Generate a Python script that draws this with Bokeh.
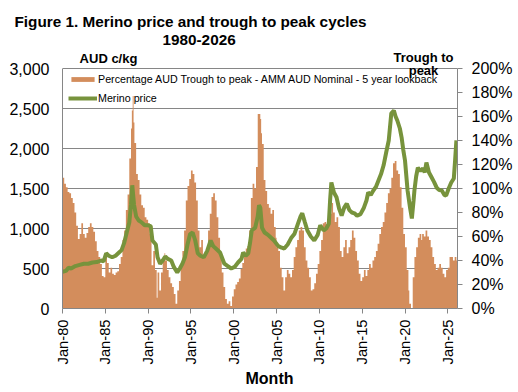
import math
from bokeh.plotting import figure
from bokeh.models import (Range1d, LinearAxis, FixedTicker, NumeralTickFormatter,
                          PrintfTickFormatter, Label, Title)
from bokeh.embed import file_html
from bokeh.resources import INLINE

# ---- data (year as decimal) ----
bar_year = [
    1980.0, 1980.2, 1980.4, 1980.6, 1980.8, 1981.0, 1981.2, 1981.4, 1981.6, 1981.8,
    1982.0, 1982.2, 1982.4, 1982.6, 1982.8, 1983.0, 1983.2, 1983.4, 1983.6, 1983.8,
    1984.0, 1984.2, 1984.4, 1984.6, 1984.8, 1985.0, 1985.2, 1985.4, 1985.6, 1985.8,
    1986.0, 1986.2, 1986.4, 1986.6, 1986.8, 1987.0, 1987.2, 1987.4, 1987.6, 1987.8,
    1988.0, 1988.1, 1988.2, 1988.3, 1988.4, 1988.6, 1988.8, 1989.0, 1989.2, 1989.4,
    1989.6, 1989.8, 1990.0, 1990.2, 1990.4, 1990.6, 1990.8, 1991.0, 1991.1, 1991.3,
    1991.5, 1991.7, 1991.9, 1992.0, 1992.2, 1992.4, 1992.6, 1992.8, 1993.0, 1993.2,
    1993.4, 1993.6, 1993.8, 1994.0, 1994.2, 1994.4, 1994.6, 1994.8, 1995.0, 1995.2,
    1995.4, 1995.6, 1995.8, 1996.0, 1996.2, 1996.4, 1996.6, 1996.8, 1997.0, 1997.2,
    1997.4, 1997.6, 1997.8, 1998.0, 1998.2, 1998.4, 1998.6, 1998.8, 1999.0, 1999.2,
    1999.4, 1999.6, 1999.8, 2000.0, 2000.2, 2000.4, 2000.6, 2000.8, 2001.0, 2001.2,
    2001.4, 2001.6, 2001.8, 2002.0, 2002.2, 2002.4, 2002.6, 2002.8, 2003.0, 2003.1,
    2003.2, 2003.3, 2003.5, 2003.7, 2003.9, 2004.1, 2004.3, 2004.5, 2004.7, 2004.9,
    2005.0, 2005.2, 2005.4, 2005.6, 2005.8, 2006.0, 2006.2, 2006.4, 2006.6, 2006.8,
    2007.0, 2007.2, 2007.4, 2007.6, 2007.8, 2008.0, 2008.2, 2008.4, 2008.6, 2008.8,
    2009.0, 2009.2, 2009.4, 2009.6, 2009.8, 2010.0, 2010.2, 2010.4, 2010.6, 2010.8,
    2011.0, 2011.2, 2011.4, 2011.6, 2011.8, 2012.0, 2012.2, 2012.4, 2012.6, 2012.8,
    2013.0, 2013.2, 2013.4, 2013.6, 2013.8, 2014.0, 2014.2, 2014.4, 2014.6, 2014.8,
    2015.0, 2015.2, 2015.4, 2015.6, 2015.8, 2016.0, 2016.2, 2016.4, 2016.6, 2016.8,
    2017.0, 2017.2, 2017.4, 2017.6, 2017.8, 2018.0, 2018.2, 2018.4, 2018.6, 2018.8,
    2019.0, 2019.2, 2019.4, 2019.6, 2019.8, 2020.0, 2020.2, 2020.4, 2020.5, 2020.7,
    2020.9, 2021.1, 2021.3, 2021.5, 2021.7, 2021.9, 2022.0, 2022.2, 2022.4, 2022.6,
    2022.8, 2023.0, 2023.2, 2023.4, 2023.6, 2023.8, 2024.0, 2024.2, 2024.4, 2024.6,
    2024.8, 2025.0, 2025.2, 2025.4, 2025.6, 2025.8, 2026.0, 2026.13,
]
bar_pct = [
    109, 104, 101, 97, 96, 92, 88, 80, 69, 58,
    62, 71, 62, 59, 63, 68, 71, 68, 64, 56,
    48, 43, 37, 27, 26, 45, 38, 30, 34, 29,
    28, 30, 31, 37, 43, 57, 65, 82, 95, 125,
    150, 165, 177, 155, 138, 112, 107, 95, 86, 84,
    76, 74, 71, 62, 36, 48, 32, 9, 30, 15,
    30, 42, 46, 40, 32, 26, 21, 18, 12, 4,
    15, 23, 36, 48, 65, 90, 102, 108, 115, 112,
    105, 90, 65, 51, 57, 43, 45, 48, 65, 79,
    93, 96, 90, 76, 59, 46, 30, 18, 8, 4,
    6, 2, 10, 16, 20, 22, 25, 33, 38, 44,
    50, 52, 65, 92, 104, 100, 118, 162, 162, 158,
    146, 137, 107, 98, 87, 84, 79, 82, 68, 59,
    51, 48, 34, 26, 15, 26, 32, 29, 26, 32,
    43, 51, 57, 65, 68, 65, 51, 40, 34, 26,
    15, 16, 21, 29, 37, 48, 57, 71, 72, 70,
    74, 79, 88, 80, 72, 76, 68, 48, 43, 51,
    57, 46, 51, 57, 65, 59, 48, 40, 29, 23,
    26, 32, 27, 32, 37, 34, 40, 43, 48, 54,
    62, 68, 72, 80, 88, 96, 100, 109, 121, 123,
    115, 112, 101, 84, 62, 51, 32, 15, 4, 0,
    26, 43, 51, 59, 62, 57, 62, 60, 65, 60,
    57, 51, 43, 37, 32, 34, 37, 34, 29, 26,
    32, 34, 43, 43, 40, 43, 40, 40,
]

price_year = [
    1980.0, 1980.4, 1980.7, 1981.0, 1981.5, 1982.0, 1982.5, 1983.0, 1983.5, 1984.0,
    1984.5, 1984.8, 1985.1, 1985.4, 1985.8, 1986.2, 1986.6, 1986.9, 1987.2, 1987.5,
    1987.8, 1988.0, 1988.15, 1988.35, 1988.6, 1988.9, 1989.2, 1989.6, 1990.0, 1990.3,
    1990.5, 1990.9, 1991.1, 1991.4, 1991.7, 1992.0, 1992.3, 1992.7, 1993.0, 1993.4,
    1993.7, 1994.0, 1994.3, 1994.6, 1994.9, 1995.2, 1995.5, 1995.8, 1996.1, 1996.5,
    1996.9, 1997.3, 1997.6, 1998.0, 1998.4, 1998.9, 1999.3, 1999.7, 2000.1, 2000.5,
    2000.9, 2001.1, 2001.4, 2001.7, 2001.9, 2002.1, 2002.5, 2002.8, 2002.95, 2003.1,
    2003.3, 2003.6, 2004.0, 2004.3, 2004.7, 2005.2, 2005.6, 2005.9, 2006.3, 2006.7,
    2007.1, 2007.5, 2007.8, 2008.0, 2008.3, 2008.6, 2009.0, 2009.4, 2009.8, 2010.1,
    2010.5, 2010.8, 2011.1, 2011.25, 2011.4, 2011.7, 2012.0, 2012.3, 2012.6, 2012.9,
    2013.2, 2013.5, 2013.8, 2014.1, 2014.4, 2014.8, 2015.2, 2015.5, 2015.7, 2016.0,
    2016.3, 2016.6, 2016.9, 2017.2, 2017.5, 2017.8, 2018.1, 2018.4, 2018.7, 2018.9,
    2019.1, 2019.4, 2019.6, 2019.8, 2020.0, 2020.3, 2020.6, 2020.8, 2021.0, 2021.1,
    2021.3, 2021.5, 2021.8, 2022.1, 2022.3, 2022.5, 2022.8, 2023.1, 2023.4, 2023.7,
    2024.0, 2024.3, 2024.6, 2024.8, 2025.1, 2025.4, 2025.7, 2025.85, 2026.0,
]
price_ckg = [
    460, 470, 510, 500, 530, 545, 560, 560, 575, 580,
    600, 590, 690, 660, 640, 660, 700, 730, 820, 950,
    1075, 1300, 1540, 1300, 1150, 1100, 1080, 1040, 1040, 1030,
    850, 800, 640, 560, 600, 650, 620, 600, 520, 450,
    500, 560, 640, 800, 930, 950, 850, 690, 660, 640,
    720, 850, 780, 740, 700, 560, 530, 500, 520, 575,
    620, 700, 660, 690, 820, 975, 1010, 1150, 1290, 1260,
    1010, 950, 920, 890, 850, 780, 760, 750, 800, 880,
    935, 1060, 1150, 1190, 1080, 975, 900, 850, 920, 1040,
    975, 1000, 1060, 1350, 1575, 1450, 1390, 1250, 1160, 1260,
    1310, 1230, 1200, 1190, 1160, 1180, 1260, 1350, 1450, 1420,
    1475, 1520, 1600, 1680, 1790, 1950, 2100, 2440, 2475, 2400,
    2350, 2250, 2140, 1980, 1850, 1475, 1250, 1125, 1350, 1475,
    1650, 1760, 1720, 1750, 1700, 1825, 1700, 1640, 1580, 1510,
    1480, 1475, 1420, 1410, 1500, 1575, 1625, 1850, 2100,
]

x_tick_years = [1980, 1985, 1990, 1995, 2000, 2005, 2010, 2015, 2020, 2025]
x_tick_labels = ["Jan-80", "Jan-85", "Jan-90", "Jan-95", "Jan-00",
                 "Jan-05", "Jan-10", "Jan-15", "Jan-20", "Jan-25"]
left_ticks = [0, 500, 1000, 1500, 2000, 2500, 3000]
right_ticks = [0, 20, 40, 60, 80, 100, 120, 140, 160, 180, 200]

X_START, X_END = 1980.0, 2026.13
LEFT_MAX, RIGHT_MAX = 3000, 200
FRAME_H, PLOT_H = 260, 240          # frame extends above the 3000 line
FONT = "Liberation Sans"
BAR_COLOR = "#D38D5C"
LINE_COLOR = "#77933C"
GRID = "#868686"

p = figure(frame_width=395, frame_height=FRAME_H,
           x_range=Range1d(X_START, X_END),
           y_range=Range1d(0, LEFT_MAX * FRAME_H / PLOT_H),
           output_backend="svg", toolbar_location=None,
           min_border_left=62, min_border_right=53,
           min_border_top=48, min_border_bottom=76)
p.title = None
p.extra_y_ranges = {"pct": Range1d(0, RIGHT_MAX * FRAME_H / PLOT_H)}

p.varea_step(x=bar_year, y1=0, y2=bar_pct, step_mode="after", y_range_name="pct",
             fill_color=BAR_COLOR,
             legend_label="Percentage AUD Trough to peak - AMM AUD Nominal - 5 year lookback")
p.line(price_year, price_ckg, line_width=4, color=LINE_COLOR, legend_label="Merino price")

p.outline_line_color = None
p.xgrid.grid_line_color = None
p.ygrid.ticker = FixedTicker(ticks=left_ticks)
p.ygrid.grid_line_color = GRID
p.ygrid.grid_line_width = 1

# left axis
ya = p.yaxis[0]
ya.ticker = FixedTicker(ticks=left_ticks)
ya.bounds = (0, LEFT_MAX)
ya.formatter = NumeralTickFormatter(format="0,0")
ya.major_tick_out = 0
ya.major_tick_in = 0
ya.minor_tick_out = 0
ya.minor_tick_in = 0
ya.axis_line_color = GRID
ya.major_label_text_font = FONT
ya.major_label_text_font_size = "16px"
ya.major_label_text_color = "black"
ya.major_label_standoff = 13

# right axis
ra = LinearAxis(y_range_name="pct", ticker=FixedTicker(ticks=right_ticks),
                formatter=PrintfTickFormatter(format="%d%%"), bounds=(0, RIGHT_MAX))
ra.major_tick_out = 5
ra.major_tick_in = 0
ra.minor_tick_out = 0
ra.minor_tick_in = 0
ra.axis_line_color = GRID
ra.major_tick_line_color = GRID
ra.major_label_text_font = FONT
ra.major_label_text_font_size = "16px"
ra.major_label_text_color = "black"
ra.major_label_standoff = 9
p.add_layout(ra, "right")

# bottom axis
xa = p.xaxis[0]
xa.ticker = FixedTicker(ticks=x_tick_years)
xa.major_label_overrides = {y: l for y, l in zip(x_tick_years, x_tick_labels)}
xa.major_label_orientation = math.pi / 2
xa.major_tick_out = 5
xa.major_tick_in = 0
xa.minor_tick_out = 0
xa.minor_tick_in = 0
xa.axis_line_color = GRID
xa.major_tick_line_color = GRID
xa.major_label_text_font = FONT
xa.major_label_text_font_size = "14.7px"
xa.major_label_text_color = "black"
xa.major_label_standoff = 6

# x-axis title placed under the tick labels
p.add_layout(Title(text="Month", align="left", offset=183, standoff=0,
                   text_font=FONT, text_font_size="16px", text_font_style="bold",
                   text_color="black"), "below")

# legend
lg = p.legend[0]
lg.location = (6, 204)
lg.margin = 0
lg.padding = 0
lg.spacing = 7
lg.glyph_width = 29
lg.glyph_height = 6
lg.label_height = 12
lg.label_standoff = 1
lg.label_text_font = FONT
lg.label_text_font_size = "10.7px"
lg.label_text_color = "black"
lg.background_fill_alpha = 0
lg.border_line_alpha = 0

# titles (above panel); first added is nearest the plot
p.add_layout(Title(text="1980-2026", align="left", offset=100,
                   text_font=FONT, text_font_size="15.3px", text_font_style="bold",
                   text_color="black", standoff=7), "above")
p.add_layout(Title(text="Figure 1. Merino price and trough to peak cycles", align="left",
                   offset=-48, text_font=FONT, text_font_size="15.3px",
                   text_font_style="bold", text_color="black", standoff=0), "above")

def add_text(txt, x, y, size):
    p.add_layout(Label(x=x, y=y, x_units="screen", y_units="screen", text=txt,
                       text_font=FONT, text_font_size=size, text_font_style="bold",
                       text_align="center", text_baseline="middle", text_color="black"))

add_text("AUD c/kg", 46, 250, "13px")
add_text("Trough to", 361, 251, "13px")
add_text("peak", 361, 238, "13px")

open("out.html", "w").write(file_html(p, INLINE))
